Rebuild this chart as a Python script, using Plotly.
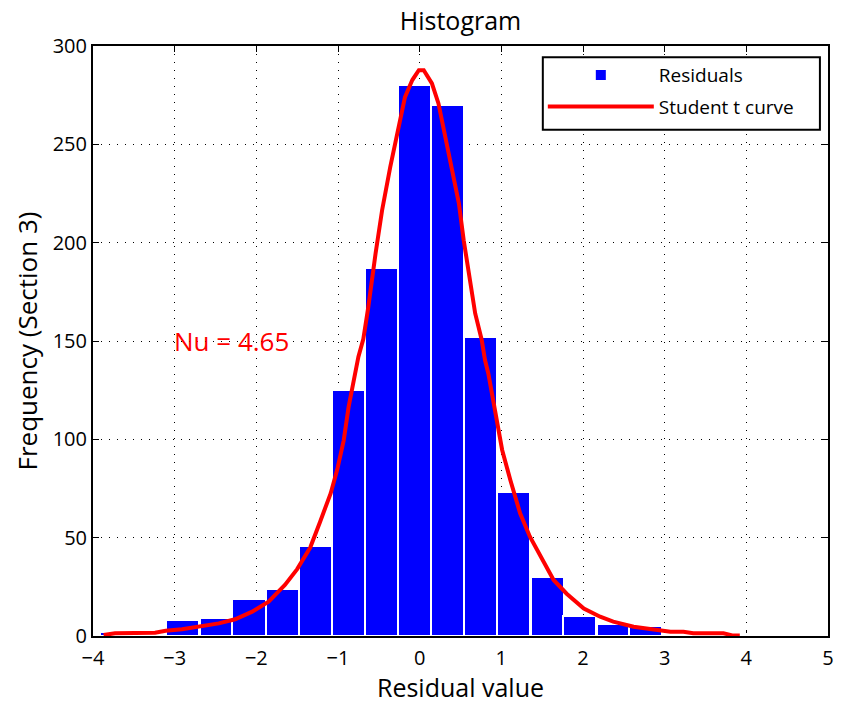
import plotly.graph_objects as go

# Histogram of residuals: bin centres, bin width and counts
bin_centers = [-3.71, -3.30, -2.90, -2.49, -2.09, -1.68, -1.28, -0.87, -0.47, -0.06,
               0.34, 0.75, 1.15, 1.56, 1.96, 2.37, 2.77, 3.18, 3.58, 3.99]
bin_width = 0.405
counts = [2, 0, 8, 9, 19, 24, 46, 125, 187, 280,
          270, 152, 73, 30, 10, 6, 5, 1, 0, 1]

# Fitted Student t curve (scaled to the histogram)
curve_x = [-3.87, -3.73, -3.24, -3.11, -2.91, -2.71, -2.46, -2.26, -2.05, -1.85,
           -1.65, -1.50, -1.34, -1.22, -1.09, -1.01, -0.93, -0.87, -0.81, -0.75,
           -0.69, -0.63, -0.54, -0.46, -0.36, -0.26, -0.18, -0.09, -0.01, 0.05,
           0.15, 0.23, 0.31, 0.40, 0.48, 0.54, 0.60, 0.68, 0.76, 0.80,
           0.84, 0.93, 1.01, 1.11, 1.23, 1.35, 1.50, 1.64, 1.80, 2.01,
           2.21, 2.37, 2.62, 2.78, 2.99, 3.07, 3.23, 3.35, 3.72, 3.84, 3.92]
curve_y = [0.5, 1.4, 1.7, 2.7, 3.4, 4.7, 6.4, 8.5, 12.4, 17.5,
           26, 34, 45, 58, 72.5, 84.5, 99.5, 116.5, 130, 142,
           151, 167, 194.5, 216.5, 238.5, 259, 274, 282.7, 287.7, 287.7,
           281, 270.8, 253.8, 237, 220, 201, 184.4, 164, 150.5, 140.3,
           133.6, 111.5, 94.6, 79.3, 62.4, 50.5, 38.6, 28.5, 21.5, 14,
           9.8, 7.3, 4.7, 3.9, 3.1, 2.2, 2.2, 1.4, 1.4, 0.2, 0.2]

nu_value = 4.65
x_ticks = [-4, -3, -2, -1, 0, 1, 2, 3, 4, 5]
y_ticks = [0, 50, 100, 150, 200, 250, 300]

FONT = "Open Sans"

fig = go.Figure()
fig.add_trace(go.Bar(
    x=bin_centers, y=counts, width=[bin_width] * len(counts),
    marker=dict(color="#0000ff", line=dict(color="white", width=2)),
    name="Residuals", legendgroup="a",
))
fig.add_trace(go.Scatter(
    x=curve_x, y=curve_y, mode="lines",
    line=dict(color="#ff0000", width=4),
    name="Student t curve", legendgroup="b",
))

fig.add_annotation(
    x=-3.03, y=150, xref="x", yref="y", xanchor="left", yanchor="middle",
    text=f"Nu = {nu_value}", showarrow=False,
    font=dict(family=FONT, size=26, color="#ff0000"),
)

# Framed white box behind the legend entries
fig.add_shape(
    type="rect", xref="paper", yref="paper",
    x0=0.612, x1=0.989, y0=0.858, y1=0.981,
    fillcolor="white", line=dict(color="black", width=2), layer="above",
)

axis_common = dict(
    showline=True, linecolor="black", linewidth=2, mirror="ticks",
    ticks="inside", ticklen=6, tickwidth=1, tickcolor="black",
    showgrid=True, gridcolor="black", gridwidth=1, griddash="1px,7px",
    zeroline=False, tickfont=dict(family=FONT, size=20, color="black"),
    layer="below traces", automargin=False,
)

fig.update_layout(
    width=841, height=704,
    margin=dict(l=93, r=13, t=46, b=68),
    paper_bgcolor="white", plot_bgcolor="white",
    bargap=0,
    title=dict(text="Histogram", x=0.5, xref="paper", y=1 - 21 / 704,
               yref="container", xanchor="center", yanchor="middle",
               font=dict(family=FONT, size=25, color="black")),
    xaxis=dict(range=[-4, 5], tickvals=x_ticks, ticklabelstandoff=3,
               title=dict(text="Residual value", standoff=4,
                          font=dict(family=FONT, size=25, color="black")),
               **axis_common),
    yaxis=dict(range=[0, 300], tickvals=y_ticks,
               title=dict(text="Frequency (Section 3)", standoff=8,
                          font=dict(family=FONT, size=26, color="black")),
               **axis_common),
    legend=dict(
        x=0.612, y=0.983, xanchor="left", yanchor="top",
        bgcolor="rgba(0,0,0,0)", borderwidth=0,
        font=dict(family=FONT, size=19, color="black"),
        traceorder="grouped", tracegroupgap=4, itemwidth=106,
    ),
    showlegend=True,
)

fig.write_html("out.html")
